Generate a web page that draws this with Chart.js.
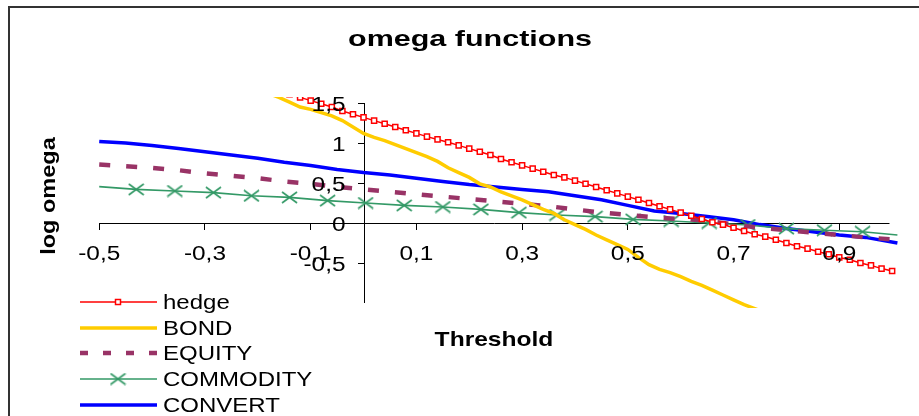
<!DOCTYPE html>
<html>
<head>
<meta charset="utf-8">
<title>omega functions</title>
<script src="https://cdn.jsdelivr.net/npm/chart.js@4.4.0/dist/chart.umd.min.js"></script>
<style>
  html, body { margin: 0; padding: 0; background: #fff; }
  #wrap { width: 919px; height: 416px; }
</style>
</head>
<body>
<div id="wrap"><canvas id="omegaChart" width="919" height="416"></canvas></div>
<script>
// thresholds (x)
const thresholdFine = [-0.20, -0.18, -0.16, -0.14, -0.12, -0.10, -0.08, -0.06, -0.04, -0.02,
  0.00, 0.02, 0.04, 0.06, 0.08, 0.10, 0.12, 0.14, 0.16, 0.18,
  0.20, 0.22, 0.24, 0.26, 0.28, 0.30, 0.32, 0.34, 0.36, 0.38,
  0.40, 0.42, 0.44, 0.46, 0.48, 0.50, 0.52, 0.54, 0.56, 0.58,
  0.60, 0.62, 0.64, 0.66, 0.68, 0.70, 0.72, 0.74, 0.76, 0.78,
  0.80, 0.82, 0.84, 0.86, 0.88, 0.90, 0.92, 0.94, 0.96, 0.98, 1.00];
const thresholdCoarse = [-0.50, -0.45, -0.40, -0.35, -0.30, -0.25, -0.20, -0.15, -0.10, -0.05,
  0.00, 0.05, 0.10, 0.15, 0.20, 0.25, 0.30, 0.35, 0.40, 0.45,
  0.50, 0.55, 0.60, 0.65, 0.70, 0.75, 0.80, 0.85, 0.90, 0.95, 1.01];
const thresholdCommodity = [-0.50, -0.43, -0.357, -0.284, -0.212, -0.140, -0.068, 0.004, 0.077, 0.150,
  0.222, 0.294, 0.366, 0.438, 0.510, 0.582, 0.654, 0.727, 0.800, 0.872, 0.944, 1.01];

// log omega values
const hedge = [1.74, 1.70, 1.655, 1.61, 1.57, 1.53, 1.49, 1.45, 1.40, 1.36,
  1.32, 1.28, 1.24, 1.20, 1.16, 1.12, 1.08, 1.045, 1.01, 0.97,
  0.93, 0.89, 0.85, 0.80, 0.76, 0.72, 0.68, 0.64, 0.60, 0.57,
  0.53, 0.49, 0.45, 0.41, 0.37, 0.33, 0.29, 0.25, 0.21, 0.17,
  0.13, 0.09, 0.05, 0.01, -0.02, -0.06, -0.10, -0.14, -0.17, -0.21,
  -0.25, -0.29, -0.32, -0.36, -0.39, -0.43, -0.46, -0.50, -0.53, -0.57, -0.60];
const bond = [1.66, 1.62, 1.57, 1.51, 1.45, 1.42, 1.38, 1.34, 1.28, 1.20,
  1.12, 1.07, 1.03, 0.98, 0.93, 0.88, 0.83, 0.77, 0.69, 0.63,
  0.57, 0.49, 0.45, 0.39, 0.34, 0.29, 0.23, 0.17, 0.12, 0.04,
  -0.02, -0.08, -0.15, -0.21, -0.27, -0.33, -0.43, -0.52, -0.58, -0.62,
  -0.67, -0.73, -0.78, -0.84, -0.90, -0.96, -1.02, -1.07, -1.12];
const equity = [0.73, 0.71, 0.69, 0.66, 0.62, 0.59, 0.56, 0.52, 0.49, 0.45,
  0.42, 0.39, 0.36, 0.33, 0.30, 0.27, 0.24, 0.21, 0.17, 0.13,
  0.10, 0.07, 0.05, 0.03, -0.02, -0.06, -0.09, -0.12, -0.15, -0.18, -0.21];
const commodity = [0.455, 0.42, 0.40, 0.38, 0.34, 0.32, 0.28, 0.25, 0.22, 0.20,
  0.17, 0.13, 0.10, 0.08, 0.045, 0.025, 0.0, -0.025, -0.07, -0.09, -0.11, -0.15];
const convert = [1.02, 1.00, 0.97, 0.93, 0.89, 0.85, 0.81, 0.76, 0.72, 0.67,
  0.63, 0.60, 0.56, 0.52, 0.48, 0.45, 0.42, 0.39, 0.34, 0.29,
  0.22, 0.15, 0.12, 0.08, 0.04, -0.02, -0.07, -0.11, -0.15, -0.18, -0.25];

// axis ticks
const xTicks = [-0.5, -0.3, -0.1, 0.1, 0.3, 0.5, 0.7, 0.9];
const yTicks = [-0.5, 0, 0.5, 1, 1.5];

const FONT = '"Liberation Sans", Arial, sans-serif';

function pairs(xs, ys) {
  return ys.map((y, i) => ({ x: xs[i], y: y }));
}

function tickText(v) {
  return String(v).replace('.', ',');
}

// X marker, a bit wider than tall like the original
function makeCross(color) {
  const c = document.createElement('canvas');
  c.width = 17; c.height = 13;
  const g = c.getContext('2d');
  g.strokeStyle = color;
  g.lineWidth = 1.6;
  g.beginPath();
  g.moveTo(1, 1); g.lineTo(16, 12);
  g.moveTo(16, 1); g.lineTo(1, 12);
  g.stroke();
  return c;
}
const crossMark = makeCross('#339966');

// the old chart text is wide, so stretch it sideways
function stretchText(ctx, text, x, y, sx, font, align, rot) {
  ctx.save();
  ctx.font = font;
  ctx.fillStyle = '#000';
  ctx.textAlign = align;
  ctx.textBaseline = 'alphabetic';
  ctx.translate(x, y);
  if (rot) ctx.rotate(rot);
  ctx.scale(sx, 1);
  ctx.fillText(text, 0, 0);
  ctx.restore();
}

// background and frame
const framePlugin = {
  id: 'frame',
  beforeDraw(chart) {
    const ctx = chart.ctx;
    ctx.save();
    ctx.fillStyle = '#fff';
    ctx.fillRect(0, 0, chart.width, chart.height);
    ctx.strokeStyle = '#333';
    ctx.lineWidth = 2;
    ctx.strokeRect(9, 7, 940, 440);
    ctx.restore();
  }
};

// axis lines from -0,5..1 and -1..1,5
const axesPlugin = {
  id: 'axesLines',
  beforeDatasetsDraw(chart) {
    const ctx = chart.ctx;
    const xs = chart.scales.x, ys = chart.scales.y;
    const y0 = Math.round(ys.getPixelForValue(0)) + 0.5;
    const x0 = Math.round(xs.getPixelForValue(0)) + 0.5;
    ctx.save();
    ctx.strokeStyle = '#000';
    ctx.lineWidth = 1;
    ctx.beginPath();
    ctx.moveTo(xs.getPixelForValue(-0.5), y0);
    ctx.lineTo(xs.getPixelForValue(0.995), y0);
    ctx.moveTo(x0, ys.getPixelForValue(1.5));
    ctx.lineTo(x0, ys.getPixelForValue(-1));
    ctx.stroke();
    ctx.restore();
  }
};

// tick labels, titles and legend
const textPlugin = {
  id: 'texts',
  afterDraw(chart) {
    const ctx = chart.ctx;
    const xs = chart.scales.x, ys = chart.scales.y;
    const x0 = xs.getPixelForValue(0), y0 = ys.getPixelForValue(0);
    const tickFont = '20px ' + FONT;

    xs.ticks.forEach(t => {
      stretchText(ctx, tickText(t.value), xs.getPixelForValue(t.value), y0 + 37, 1.22, tickFont, 'center');
    });
    ys.ticks.forEach(t => {
      stretchText(ctx, tickText(t.value), x0 - 18, ys.getPixelForValue(t.value) + 8, 1.22, tickFont, 'right');
    });

    stretchText(ctx, 'omega functions', 470, 46, 1.386, 'bold 22px ' + FONT, 'center');
    stretchText(ctx, 'Threshold', 494, 346, 1.17, 'bold 21px ' + FONT, 'center');
    stretchText(ctx, 'log omega', 55, 196, 1.12, 'bold 21px ' + FONT, 'center', -Math.PI / 2);

    const rows = [302, 328, 353, 379, 405];
    chart.data.datasets.forEach((ds, i) => {
      const y = rows[i];
      ctx.save();
      ctx.strokeStyle = ds.borderColor;
      ctx.lineWidth = ds.borderWidth;
      if (ds.legendDash) ctx.setLineDash(ds.legendDash);
      ctx.beginPath();
      ctx.moveTo(80, y);
      ctx.lineTo(157, y);
      ctx.stroke();
      ctx.setLineDash([]);
      if (ds.label === 'hedge') {
        ctx.fillStyle = '#fff';
        ctx.lineWidth = 1.5;
        ctx.fillRect(115.5, y - 2.5, 5, 5);
        ctx.strokeRect(115.5, y - 2.5, 5, 5);
      }
      if (ds.label === 'COMMODITY') {
        ctx.drawImage(crossMark, 118 - 8.5, y - 6.5);
      }
      ctx.restore();
      stretchText(ctx, ds.label, 163, y + 7, 1.2, '20px ' + FONT, 'left');
    });
  }
};

const ctx = document.getElementById('omegaChart').getContext('2d');
const chart = new Chart(ctx, {
  type: 'line',
  data: {
    datasets: [
      {
        label: 'hedge',
        data: pairs(thresholdFine, hedge),
        borderColor: '#FF0000',
        borderWidth: 1.5,
        pointStyle: 'rect',
        pointRadius: 3.6,
        pointBorderWidth: 1.5,
        pointBorderColor: '#FF0000',
        pointBackgroundColor: '#fff'
      },
      {
        label: 'BOND',
        data: pairs(thresholdFine, bond),
        borderColor: '#FFCC00',
        borderWidth: 3.5,
        pointRadius: 0
      },
      {
        label: 'EQUITY',
        data: pairs(thresholdCoarse, equity),
        borderColor: '#993366',
        borderWidth: 4.5,
        borderDash: [11, 16],
        legendDash: [8, 15],
        pointRadius: 0
      },
      {
        label: 'COMMODITY',
        data: pairs(thresholdCommodity, commodity),
        borderColor: '#339966',
        borderWidth: 1.6,
        pointStyle: crossMark,
        pointRadius: c => (c.dataIndex === 0 || c.dataIndex === commodity.length - 1) ? 0 : 6
      },
      {
        label: 'CONVERT',
        data: pairs(thresholdCoarse, convert),
        borderColor: '#0000FF',
        borderWidth: 3.5,
        pointRadius: 0
      }
    ]
  },
  options: {
    responsive: false,
    animation: false,
    events: [],
    layout: { padding: { left: 95, top: 97, right: 20, bottom: 108 } },
    plugins: {
      legend: { display: false },
      title: { display: false },
      tooltip: { enabled: false }
    },
    scales: {
      x: {
        type: 'linear',
        position: { y: 0 },
        min: -0.508,
        max: 1.013,
        afterBuildTicks: s => { s.ticks = xTicks.map(v => ({ value: v })); },
        grid: { drawOnChartArea: false, drawTicks: true, tickLength: 7, color: '#000', tickColor: '#000' },
        border: { display: false },
        ticks: { display: false, autoSkip: false, maxRotation: 0 }
      },
      y: {
        type: 'linear',
        position: { x: 0 },
        min: -1.0625,
        max: 1.575,
        afterBuildTicks: s => { s.ticks = yTicks.map(v => ({ value: v })); },
        grid: { drawOnChartArea: false, drawTicks: true, tickLength: 6, color: '#000', tickColor: '#000' },
        border: { display: false },
        ticks: { display: false, autoSkip: false }
      }
    }
  },
  plugins: [framePlugin, axesPlugin, textPlugin]
});
</script>
</body>
</html>
